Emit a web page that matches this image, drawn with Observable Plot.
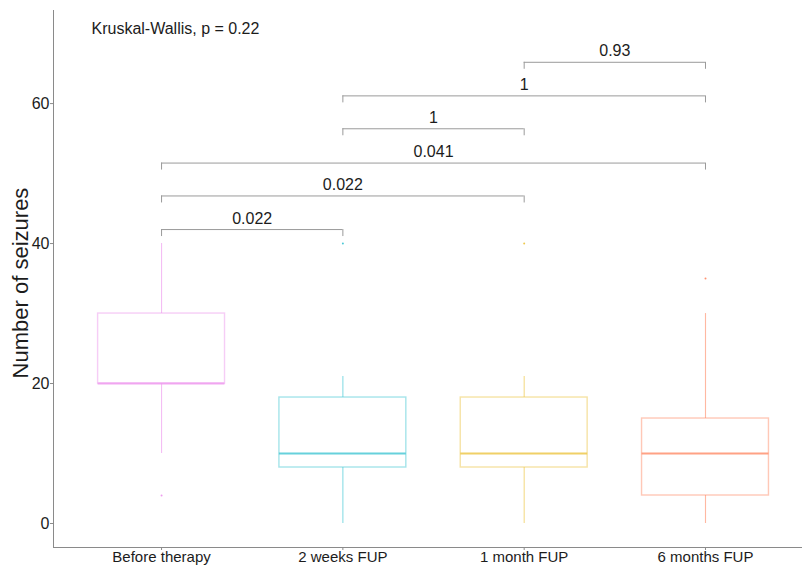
<!DOCTYPE html>
<html>
<head>
<meta charset="utf-8">
<script src="https://cdn.jsdelivr.net/npm/d3@7"></script>
<script src="https://cdn.jsdelivr.net/npm/@observablehq/plot@0.6"></script>
<style>
  html, body { margin: 0; padding: 0; background: white; }
  #chart svg { display: block; }
  #chart svg text { fill: #1c1c1c; }
  #chart svg [aria-label^="y-axis"] text { font-size: 16px; }
</style>
</head>
<body>
<div id="chart"></div>
<script>
// ---- data ----
const categories = ["Before therapy", "2 weeks FUP", "1 month FUP", "6 months FUP"];
const whiskerLow  = [10, 0, 0, 0];
const q1          = [20, 8, 8, 4];
const medians     = [20, 10, 10, 10];
const q3          = [30, 18, 18, 15];
const whiskerHigh = [40, 21, 21, 30];
const outlierGroup = ["Before therapy", "2 weeks FUP", "1 month FUP", "6 months FUP"];
const outlierValue = [4, 40, 40, 35];
const colors = ["#EE9BEE", "#4CC9D6", "#EDC84C", "#FF9270"];

const cmpGroup1 = ["Before therapy", "Before therapy", "Before therapy", "2 weeks FUP", "2 weeks FUP", "1 month FUP"];
const cmpGroup2 = ["2 weeks FUP", "1 month FUP", "6 months FUP", "1 month FUP", "6 months FUP", "6 months FUP"];
const cmpLabel  = ["0.022", "0.022", "0.041", "1", "1", "0.93"];
const cmpY      = [42, 46.8, 51.5, 56.4, 61.1, 65.9];
const yTicks = [0, 20, 40, 60];
const kwText = "Kruskal-Wallis, p = 0.22";
const yTitle = "Number of seizures";

// ---- tables ----
const idx = c => categories.indexOf(c);
const boxes = categories.map((c, i) => ({
  i, c, lo: whiskerLow[i], q1: q1[i], med: medians[i], q3: q3[i], hi: whiskerHigh[i], color: colors[i]
}));
const outliers = outlierGroup.map((g, k) => ({ i: idx(g), v: outlierValue[k], color: colors[idx(g)] }));
const brackets = cmpGroup1.map((g, k) => ({
  a: idx(g), b: idx(cmpGroup2[k]), label: cmpLabel[k], y: cmpY[k]
}));
const tips = brackets.flatMap(d => [{ x: d.a, y: d.y }, { x: d.b, y: d.y }]);
const half = 0.35; // half box width in category units

const chart = Plot.plot({
  width: 802,
  height: 569,
  marginLeft: 53,
  marginRight: 0,
  marginTop: 10,
  marginBottom: 22,
  style: { fontFamily: "'Liberation Sans', Arial, sans-serif", fontSize: "15px", color: "#8a8a8a", background: "white" },
  x: {
    domain: [-0.596, 3.535],
    ticks: [0, 1, 2, 3],
    tickFormat: i => categories[i],
    tickSize: 3,
    tickPadding: 1,
    line: true,
    label: null
  },
  y: {
    domain: [-3.43, 73.3],
    ticks: yTicks,
    tickSize: 3,
    tickPadding: 1,
    line: true,
    label: null
  },
  marks: [
    // whiskers
    Plot.ruleX(boxes, { x: "i", y1: "lo", y2: "q1", stroke: "color", strokeOpacity: 0.65, strokeWidth: 1.1 }),
    Plot.ruleX(boxes, { x: "i", y1: "q3", y2: "hi", stroke: "color", strokeOpacity: 0.65, strokeWidth: 1.1 }),
    // boxes
    Plot.rect(boxes, { x1: d => d.i - half, x2: d => d.i + half, y1: "q1", y2: "q3", fill: "white", stroke: "color", strokeOpacity: 0.5, strokeWidth: 1.4 }),
    // medians
    Plot.ruleY(boxes, { x1: d => d.i - half, x2: d => d.i + half, y: "med", stroke: "color", strokeOpacity: 0.85, strokeWidth: 1.8 }),
    // outliers
    Plot.dot(outliers, { x: "i", y: "v", r: 1, fill: "color", stroke: null }),
    // significance brackets
    Plot.ruleY(brackets, { x1: "a", x2: "b", y: "y", stroke: "#9a9a9a", strokeWidth: 1 }),
    Plot.ruleX(tips, { x: "x", y1: "y", y2: d => d.y - 1, stroke: "#9a9a9a", strokeWidth: 1 }),
    Plot.text(brackets, { x: d => (d.a + d.b) / 2, y: "y", text: "label", dy: -11, fontSize: 16 }),
    // annotations
    Plot.text([kwText], { frameAnchor: "top-left", text: d => d, dx: 38, dy: 12, textAnchor: "start", fontSize: 16 }),
    Plot.text([yTitle], { frameAnchor: "left", text: d => d, dx: -33, dy: 4, rotate: -90, textAnchor: "middle", fontSize: 22 })
  ]
});
document.getElementById("chart").appendChild(chart);
</script>
</body>
</html>
